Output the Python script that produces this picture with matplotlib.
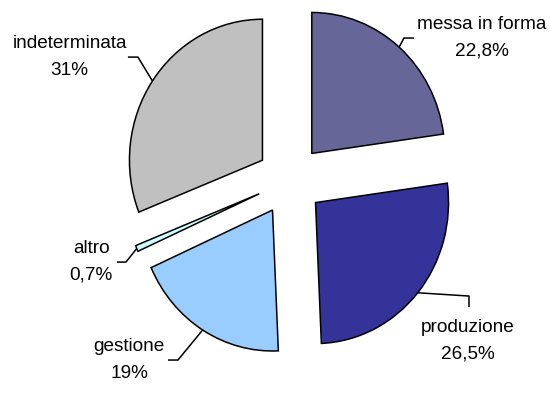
import matplotlib

matplotlib.use("Agg")
import matplotlib.pyplot as plt
import numpy as np

plt.rcParams["font.family"] = ["Liberation Sans", "DejaVu Sans"]

# share of each area (%)
labels = ["messa in forma", "produzione", "gestione", "altro", "indeterminata"]
values = [22.8, 26.5, 19.0, 0.7, 31.0]
value_text = ["22,8%", "26,5%", "19%", "0,7%", "31%"]
colors = ["#666699", "#333399", "#99CCFF", "#CCFFFF", "#C0C0C0"]

# leader elbows / ends and label anchors, in axes data units
elbows = [(0.857, 1.007), (1.346, -0.823), (-0.842, -1.277), (-1.233, -0.582), (-1.143, 0.872)]
ends = [(0.932, 1.007), (1.346, -0.901), (-0.917, -1.277), (-1.301, -0.582), (-1.218, 0.872)]
text_pos = [(0.955, 1.007), (1.338, -0.985), (-0.94, -1.277), (-1.331, -0.582), (-1.226, 0.872)]
text_align = [("left", "center"), ("center", "top"), ("right", "center"),
              ("right", "center"), ("right", "center")]

fig = plt.figure(figsize=(5.5, 4.17), dpi=100)
ax = fig.add_axes([0, 0, 1, 1])

wedges, _ = ax.pie(values, colors=colors, startangle=90, counterclock=False,
                   explode=[0.25] * len(values), radius=1.0,
                   wedgeprops=dict(edgecolor="black", linewidth=1.1))

for w, lab, vt, el, en, tp, (ha, va) in zip(wedges, labels, value_text, elbows,
                                            ends, text_pos, text_align):
    mid = np.deg2rad((w.theta1 + w.theta2) / 2)
    cx, cy = w.center
    anchor = (cx + w.r * np.cos(mid), cy + w.r * np.sin(mid))
    ax.plot([anchor[0], el[0], en[0]], [anchor[1], el[1], en[1]],
            color="black", lw=1.1, solid_capstyle="butt")
    ax.text(tp[0], tp[1], f"{lab}\n{vt}", ha=ha, va=va, multialignment="center",
            fontsize=13.7, linespacing=1.72, color="black")

ax.set_aspect("auto")
ax.set_xlim(-2.180, 1.955)
ax.set_ylim(-1.681, 1.277)
ax.axis("off")

fig.savefig("out.png", dpi=100)
